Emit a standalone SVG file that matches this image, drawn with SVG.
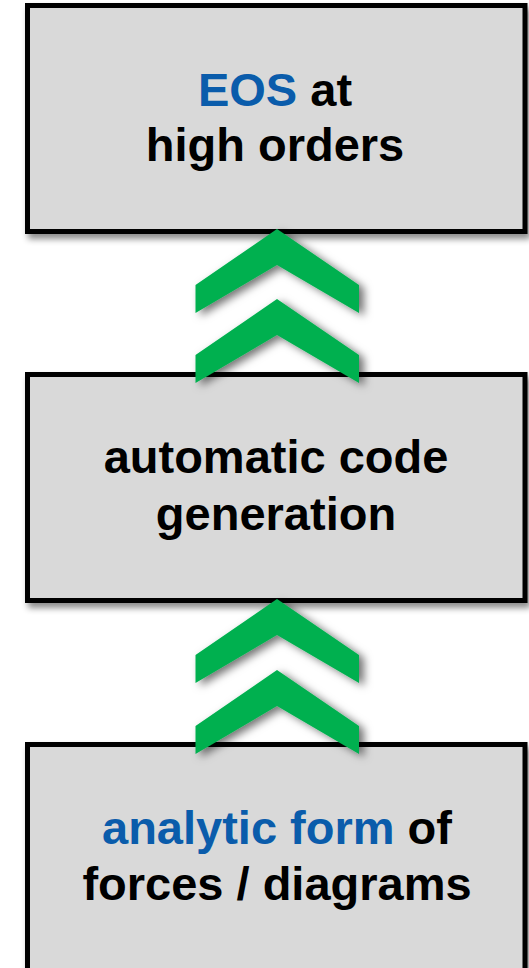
<svg xmlns="http://www.w3.org/2000/svg" width="529" height="968" viewBox="0 0 529 968">
<defs>
<filter id="boxShadow" x="-10%" y="-10%" width="125%" height="130%">
<feDropShadow dx="3" dy="5" stdDeviation="3" flood-color="#000" flood-opacity="0.45"/>
</filter>
<filter id="chevShadow" x="-30%" y="-30%" width="170%" height="170%">
<feDropShadow dx="5" dy="3" stdDeviation="4" flood-color="#000" flood-opacity="0.55"/>
</filter>
<polygon id="chev" points="0,0 82,56 82,84 0,36 -81.5,84 -81.5,56"/>
</defs>
<style>
.box{fill:#d9d9d9;stroke:#000;stroke-width:5;filter:url(#boxShadow)}
.lbl{font-family:"Liberation Sans",Arial,sans-serif;font-weight:bold;font-size:47px;fill:#000;text-anchor:middle}
.hl{fill:#0a5cab}
.chev{fill:#00b050;filter:url(#chevShadow)}
</style>
<rect width="529" height="968" fill="#fff"/>
<g id="node-eos">
<rect class="box" x="27.5" y="5.5" width="497.5" height="226"/>
<text class="lbl" x="275" y="106"><tspan class="hl">EOS</tspan> at</text>
<text class="lbl" x="275" y="161">high orders</text>
</g>
<g id="node-codegen">
<rect class="box" x="27.5" y="374.5" width="497.5" height="226"/>
<text class="lbl" x="276" y="473">automatic code</text>
<text class="lbl" x="276" y="530">generation</text>
</g>
<g id="node-analytic">
<rect class="box" x="27.5" y="744.5" width="497.5" height="226"/>
<text class="lbl" x="277" y="844"><tspan class="hl">analytic form</tspan> of</text>
<text class="lbl" x="277" y="900">forces / diagrams</text>
</g>
<g id="connectors">
<use href="#chev" class="chev" x="277" y="229"/>
<use href="#chev" class="chev" x="277" y="299"/>
<use href="#chev" class="chev" x="277" y="599"/>
<use href="#chev" class="chev" x="277" y="670"/>
</g>
</svg>
